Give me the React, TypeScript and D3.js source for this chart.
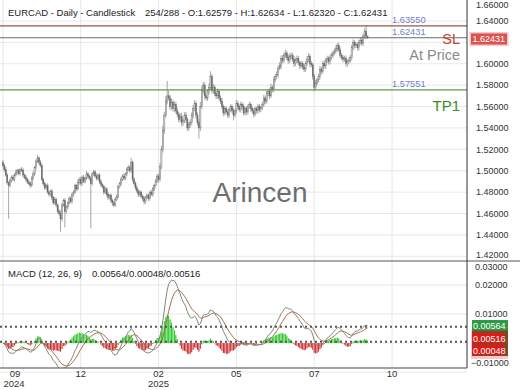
import React from 'react';
import * as d3 from 'd3';

// daily closes, one per bar
const closes = [
  1.5050, 1.5010, 1.4960, 1.4890, 1.4860, 1.4910, 1.4940, 1.4920, 1.4960, 1.4985,
  1.5000, 1.4975, 1.5010, 1.5005, 1.4960, 1.4940, 1.4920, 1.4895, 1.4880, 1.4865,
  1.4930, 1.4970, 1.5030, 1.5090, 1.5120, 1.5080, 1.5050, 1.4920, 1.4880, 1.4840,
  1.4860, 1.4800, 1.4780, 1.4810, 1.4750, 1.4700, 1.4730, 1.4680, 1.4620, 1.4600,
  1.4550, 1.4680, 1.4720, 1.4620, 1.4660, 1.4700, 1.4740, 1.4710, 1.4780, 1.4800,
  1.4860, 1.4830, 1.4890, 1.4920, 1.4880, 1.4940, 1.4900, 1.4930, 1.4970, 1.4950,
  1.4930, 1.4880, 1.4970, 1.4990, 1.4950, 1.4930, 1.4960, 1.4900, 1.4870, 1.4850,
  1.4800, 1.4830, 1.4780, 1.4750, 1.4770, 1.4720, 1.4700, 1.4680, 1.4730, 1.4760,
  1.4850, 1.4880, 1.4920, 1.4950, 1.4930, 1.4970, 1.5010, 1.5030, 1.5000, 1.5080,
  1.4920, 1.4880, 1.4840, 1.4810, 1.4780, 1.4800, 1.4760, 1.4740, 1.4710, 1.4750,
  1.4770, 1.4740, 1.4800, 1.4780, 1.4830, 1.4860, 1.4900, 1.4950, 1.4920, 1.5040,
  1.5200, 1.5380, 1.5520, 1.5650, 1.5700, 1.5680, 1.5600, 1.5640, 1.5580, 1.5620,
  1.5560, 1.5530, 1.5480, 1.5510, 1.5450, 1.5470, 1.5520, 1.5480, 1.5400, 1.5430,
  1.5450, 1.5520, 1.5580, 1.5630, 1.5520, 1.5450, 1.5400, 1.5600, 1.5750, 1.5800,
  1.5700, 1.5680, 1.5740, 1.5780, 1.5880, 1.5750, 1.5780, 1.5720, 1.5700, 1.5740,
  1.5680, 1.5650, 1.5600, 1.5540, 1.5580, 1.5550, 1.5520, 1.5570, 1.5600, 1.5560,
  1.5520, 1.5560, 1.5630, 1.5600, 1.5570, 1.5620, 1.5600, 1.5540, 1.5580, 1.5550,
  1.5600, 1.5620, 1.5580, 1.5560, 1.5530, 1.5580, 1.5560, 1.5600, 1.5570, 1.5590,
  1.5620, 1.5680, 1.5650, 1.5720, 1.5740, 1.5700, 1.5780, 1.5760, 1.5850, 1.5880,
  1.5900, 1.5960, 1.5980, 1.6050, 1.6030, 1.6080, 1.6100, 1.6060, 1.6030, 1.6070,
  1.6080, 1.6040, 1.6000, 1.6030, 1.6050, 1.6010, 1.5980, 1.6000, 1.5970, 1.5950,
  1.6000, 1.6040, 1.6070, 1.6000, 1.5990, 1.5880, 1.5780, 1.5820, 1.5850, 1.5880,
  1.5950, 1.5930, 1.6000, 1.5980, 1.6030, 1.6050, 1.6020, 1.6060, 1.6080, 1.6100,
  1.6120, 1.6140, 1.6170, 1.6130, 1.6080, 1.6060, 1.6040, 1.6050, 1.6000, 1.6020,
  1.6030, 1.6060, 1.6150, 1.6200, 1.6170, 1.6180, 1.6150, 1.6200, 1.6220, 1.6190,
  1.6260, 1.6300, 1.6258, 1.6243,
];
const firstOpen = 1.5080;

// wick lengths above / below the body, in pips
const upperPips = [
  20, 15, 25, 18, 12, 22, 15, 20, 18, 25, 15, 20, 12, 25, 18, 15, 20, 14, 22, 18,
  20, 25, 15, 18, 30, 15, 20, 18, 12, 20, 15, 22, 18, 12, 20, 15, 25, 18, 12, 20,
  30, 15, 20, 25, 18, 12, 20, 22, 15, 18, 20, 15, 25, 18, 22, 15, 20, 12, 25, 18,
  15, 22, 18, 20, 15, 25, 12, 18, 20, 15, 18, 20, 15, 22, 12, 18, 20, 15, 25, 18,
  20, 15, 22, 18, 25, 15, 20, 25, 18, 40, 15, 20, 18, 22, 15, 20, 12, 18, 22, 15,
  20, 18, 15, 22, 18, 20, 25, 18, 22, 30, 35, 40, 30, 45, 140, 50, 30, 35, 25, 30,
  25, 30, 20, 25, 30, 18, 25, 30, 20, 25, 30, 25, 35, 30, 20, 25, 30, 45, 40, 30,
  25, 30, 20, 35, 50, 25, 30, 20, 25, 30, 20, 25, 30, 18, 25, 20, 22, 25, 20, 18,
  25, 20, 30, 22, 18, 25, 20, 28, 22, 18, 20, 25, 18, 22, 25, 20, 18, 25, 22, 20,
  25, 30, 22, 28, 25, 30, 35, 22, 30, 25, 30, 25, 35, 28, 30, 25, 30, 22, 25, 30,
  25, 22, 30, 25, 28, 22, 20, 25, 22, 28, 25, 30, 28, 22, 25, 20, 25, 30, 22, 25,
  28, 22, 25, 30, 22, 25, 20, 28, 25, 22, 25, 30, 22, 28, 25, 20, 22, 25, 28, 20,
  22, 25, 30, 28, 22, 25, 20, 25, 30, 22, 25, 30, 60, 5,
];
const lowerPips = [
  18, 22, 15, 20, 310, 15, 22, 18, 20, 15, 22, 18, 20, 15, 25, 18, 22, 20, 15, 25,
  18, 15, 22, 20, 18, 25, 20, 15, 22, 18, 20, 15, 22, 18, 25, 20, 15, 22, 18, 20,
  120, 25, 18, 150, 20, 22, 18, 15, 20, 22, 18, 22, 15, 20, 18, 22, 15, 20, 18, 22,
  20, 420, 18, 22, 15, 20, 18, 25, 20, 18, 22, 18, 20, 25, 18, 22, 30, 20, 18, 15,
  20, 18, 22, 15, 20, 18, 22, 15, 20, 18, 25, 20, 22, 18, 25, 20, 18, 22, 25, 20,
  18, 22, 20, 18, 22, 20, 18, 15, 30, 20, 25, 30, 35, 25, 30, 25, 30, 28, 25, 30,
  25, 30, 28, 25, 35, 30, 25, 28, 30, 25, 28, 25, 30, 25, 35, 30, 100, 30, 25, 28,
  30, 25, 28, 30, 25, 28, 30, 25, 30, 28, 22, 25, 28, 30, 25, 22, 28, 25, 22, 25,
  50, 22, 25, 28, 22, 25, 30, 22, 25, 28, 25, 22, 28, 25, 30, 22, 25, 28, 22, 25,
  22, 25, 28, 22, 25, 30, 22, 25, 28, 22, 25, 28, 22, 30, 25, 22, 28, 25, 30, 22,
  28, 25, 30, 22, 28, 25, 30, 22, 25, 28, 25, 22, 28, 30, 25, 28, 40, 25, 22, 28,
  25, 28, 22, 25, 30, 22, 28, 25, 22, 25, 22, 25, 28, 22, 30, 25, 28, 22, 25, 28,
  25, 22, 28, 25, 30, 22, 25, 28, 22, 25, 22, 25, 28, 11,
];

const priceTicks = [1.42, 1.44, 1.46, 1.48, 1.5, 1.52, 1.54, 1.56, 1.58, 1.6, 1.62, 1.64, 1.66];
const macdTicks = [0.03, 0.02, 0.01, -0.01];
const macdGrid = [0.02, 0.01, 0, -0.01];
const dateTickBars = [0, 54, 108, 162, 216, 270];
const monthLabels = ['09', '12', '02', '05', '07', '10'];
const yearLabels = ['2024', '', '2025', '', '', ''];

const slLevel = 1.6355;
const lastPrice = 1.62431;
const tp1Level = 1.57551;
const lastMacd = 0.00564;
const lastHist = 0.00048;
const lastSignal = 0.00516;

const FONT = 'Liberation Sans, Arial, sans-serif';

function ema(values: number[], n: number) {
  const k = 2 / (n + 1);
  const out: number[] = [];
  values.forEach((v, i) => out.push(i === 0 ? v : v * k + out[i - 1] * (1 - k)));
  return out;
}

const App: React.FC = () => {
  const plotR = 467;
  const mainBottom = 261;
  const macdBottom = 368;

  const x = d3.scaleLinear().domain([-2, 322]).range([0, plotR]);
  const step = x(1) - x(0);
  const y = d3.scaleLinear().domain([1.4156, 1.6596]).range([mainBottom, 0]);
  const ym = d3.scaleLinear().domain([-0.0086, 0.0283]).range([macdBottom, mainBottom]);

  const opens = [firstOpen, ...closes.slice(0, -1)];
  const bars = closes.map((c, i) => {
    const o = opens[i];
    return {
      i, o, c,
      h: Math.max(o, c) + upperPips[i] / 10000,
      l: Math.min(o, c) - lowerPips[i] / 10000,
    };
  });

  // MACD (12, 26, 9) of the closes
  const e12 = ema(closes, 12);
  const e26 = ema(closes, 26);
  const macd = e12.map((v, i) => v - e26[i]);
  const signal = ema(macd, 9);
  const hist = macd.map((v, i) => v - signal[i]);

  const macdLine = d3.line<number>().x((_, i) => x(i)).y(d => ym(d));

  const fmt = d3.format('.5f');
  const tagY = y(lastPrice);

  return (
    <svg width={520} height={390} style={{ position: 'absolute', left: 0, top: 0, background: '#fff' }} fontFamily={FONT}>
      <defs>
        <clipPath id="mainClip"><rect x={0} y={0} width={plotR} height={mainBottom} /></clipPath>
        <clipPath id="macdClip"><rect x={0} y={mainBottom} width={plotR} height={macdBottom - mainBottom} /></clipPath>
      </defs>

      {/* grid */}
      {priceTicks.map(t => (
        <line key={'pg' + t} x1={0} x2={plotR} y1={y(t)} y2={y(t)} stroke="#e9e9e9" />
      ))}
      {macdGrid.map(t => (
        <line key={'mg' + t} x1={0} x2={plotR} y1={ym(t)} y2={ym(t)} stroke="#e9e9e9" />
      ))}
      {dateTickBars.map(b => (
        <line key={'vg' + b} x1={x(b)} x2={x(b)} y1={0} y2={macdBottom} stroke="#e6e6e6" />
      ))}

      {/* watermark */}
      <text x={260} y={202} textAnchor="middle" fontSize={28} fill="#6e6e6e">Arincen</text>

      {/* candles */}
      <g clipPath="url(#mainClip)">
        {bars.map(b => {
          const up = b.c >= b.o;
          const top = y(Math.max(b.o, b.c));
          const bot = y(Math.min(b.o, b.c));
          return (
            <g key={b.i}>
              <line x1={x(b.i)} x2={x(b.i)} y1={y(b.h)} y2={y(b.l)} stroke="#6a6a6a" strokeWidth={0.6} />
              <rect x={x(b.i) - 0.55} y={top} width={1.1} height={Math.max(0.6, bot - top)}
                fill={up ? '#efefef' : '#6a6a6a'} stroke="#6a6a6a" strokeWidth={0.45} />
            </g>
          );
        })}
      </g>

      {/* order levels */}
      <line x1={0} x2={plotR} y1={y(slLevel)} y2={y(slLevel)} stroke="#a0553f" strokeWidth={1.2} />
      <line x1={0} x2={plotR} y1={y(lastPrice)} y2={y(lastPrice)} stroke="#6a6a6a" strokeWidth={1} />
      <line x1={0} x2={plotR} y1={y(tp1Level)} y2={y(tp1Level)} stroke="#5f9a4a" strokeWidth={1.2} />
      <text x={392} y={y(slLevel) - 2.5} fontSize={9.3} fill="#6f7fcc">{fmt(slLevel)}</text>
      <text x={392} y={y(lastPrice) - 2.5} fontSize={9.3} fill="#6f7fcc">{fmt(lastPrice)}</text>
      <text x={392} y={y(tp1Level) - 2.5} fontSize={9.3} fill="#6f7fcc">{fmt(tp1Level)}</text>
      <text x={460} y={44} textAnchor="end" fontSize={14.5} fill="#c0462e">SL</text>
      <text x={460} y={60} textAnchor="end" fontSize={14.5} fill="#8a8a8a">At Price</text>
      <text x={460} y={110.5} textAnchor="end" fontSize={15} fill="#3b8a2c">TP1</text>

      {/* MACD histogram */}
      <g clipPath="url(#macdClip)">
        {hist.map((h, i) => {
          const y0 = ym(0);
          const y1 = ym(h);
          const pos = h >= 0;
          const top = Math.min(y0, y1);
          const ht = Math.abs(y1 - y0);
          return (
            <g key={'h' + i}>
              <rect x={x(i) - step / 2} y={top} width={step} height={ht} fill={pos ? '#b6f5b0' : '#f7c2c6'} />
              <rect x={x(i) - 0.45} y={top} width={0.9} height={ht} fill={pos ? '#25c225' : '#c82020'} />
            </g>
          );
        })}
        <path d={macdLine(signal) || ''} fill="none" stroke="#a86a45" strokeWidth={1} />
        <path d={macdLine(macd) || ''} fill="none" stroke="#7f877c" strokeWidth={1} />
      </g>
      <line x1={0} x2={plotR} y1={ym(lastMacd)} y2={ym(lastMacd)} stroke="#555" strokeWidth={2} strokeDasharray="2,3" />
      <line x1={0} x2={plotR} y1={ym(lastHist)} y2={ym(lastHist)} stroke="#555" strokeWidth={2} strokeDasharray="2,3" />

      {/* frame */}
      <line x1={0} x2={520} y1={mainBottom} y2={mainBottom} stroke="#555" />
      <line x1={plotR} x2={plotR} y1={0} y2={macdBottom} stroke="#333" />
      <line x1={0} x2={plotR} y1={macdBottom} y2={macdBottom} stroke="#444" />

      {/* right price axis (labels under the price tag are hidden) */}
      {priceTicks.filter(t => Math.abs(y(t) - tagY) > 7).map(t => (
        <text key={'pt' + t} x={476} y={Math.min(255, Math.max(5, y(t))) + 3.2} fontSize={9} fill="#333">{fmt(t)}</text>
      ))}
      {macdTicks.map(t => (
        <text key={'mt' + t} x={t < 0 ? 471 : 475} y={Math.min(363, Math.max(267, ym(t))) + 3.2} fontSize={9} fill="#333">{fmt(t)}</text>
      ))}

      {/* last price tag */}
      <rect x={469.5} y={32} width={39} height={14} fill="#f8c6cc" />
      <rect x={471} y={33.5} width={36} height={11} fill="#d9534f" />
      <text x={472.5} y={42.3} fontSize={9} fill="#fff">{fmt(lastPrice)}</text>

      {/* MACD value tags */}
      <rect x={471} y={330} width={37} height={29} fill="#f8c6cc" />
      <rect x={472} y={330} width={36} height={26} fill="#7b4a26" />
      <rect x={472} y={333} width={32} height={10} fill="#e01818" />
      <rect x={472} y={345} width={32} height={10} fill="#e01818" />
      <rect x={472} y={320} width={36} height={10.5} fill="#2e9a46" />
      <text x={473} y={328.5} fontSize={9} fill="#fff">{fmt(lastMacd)}</text>
      <text x={473} y={341.5} fontSize={9} fill="#fff">{fmt(lastSignal)}</text>
      <text x={473} y={353.5} fontSize={9} fill="#fff">{fmt(lastHist)}</text>

      {/* date axis */}
      {dateTickBars.map((b, k) => (
        <g key={'dt' + b}>
          <text x={Math.max(15, x(b))} y={376.5} textAnchor="middle" fontSize={9.5} fill="#333">{monthLabels[k]}</text>
          {yearLabels[k] && (
            <text x={Math.max(14, x(b))} y={387} textAnchor="middle" fontSize={9.5} fill="#333">{yearLabels[k]}</text>
          )}
        </g>
      ))}

      {/* headers */}
      <text x={8} y={16} fontSize={9.5} fill="#222">EURCAD - Daily - Candlestick</text>
      <text x={145} y={16} fontSize={9.5} fill="#222">254/288 - O:1.62579 - H:1.62634 - L:1.62320 - C:1.62431</text>
      <text x={8} y={276.5} fontSize={9.5} fill="#222">MACD (12, 26, 9)</text>
      <text x={92} y={276.5} fontSize={9.5} fill="#222">0.00564/0.00048/0.00516</text>
    </svg>
  );
};

export default App;
